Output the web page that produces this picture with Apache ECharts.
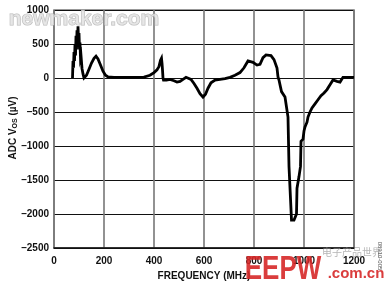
<!DOCTYPE html>
<html>
<head>
<meta charset="utf-8">
<script src="https://cdn.jsdelivr.net/npm/echarts@6/dist/echarts.min.js"></script>
<style>html,body{margin:0;padding:0;background:#fff}#c{width:386px;height:284px}</style>
</head>
<body>
<div id="c"></div>
<script>
// Frequency (MHz)
const freqMHz = [74,75,76,78,80,82,84,86,88,90,92,94,96,98,100,102,104,106,108,112,116,120,124,130,140,150,160,168,176,186,196,206,216,240,300,360,384,400,412,420,426,430,432,434,436,438,450,464,480,492,504,516,528,536,548,560,572,584,596,606,616,628,644,664,684,704,724,744,760,776,784,796,812,824,836,848,856,868,880,888,892,896,900,904,910,916,924,932,936,940,944,950,954,960,966,970,972,978,980,986,988,996,1000,1004,1012,1016,1024,1032,1044,1056,1068,1080,1092,1104,1116,1120,1132,1144,1156,1170,1200];
// ADC VOS (µV)
const vosMicroV = [0,0,250,150,380,250,500,330,620,420,700,520,760,560,660,420,520,300,330,140,60,0,0,40,130,220,290,320,280,190,100,40,15,10,10,12,40,80,120,170,260,290,220,120,0,-30,-30,-20,-40,-60,-50,-20,10,15,-20,-80,-150,-230,-280,-240,-150,-70,-30,-20,-10,10,40,80,150,250,260,230,190,200,300,340,365,330,270,250,147,15,-30,-100,-200,-220,-280,-290,-574,-1300,-1320,-2090,-2090,-2090,-2090,-2000,-1620,-1600,-1450,-1300,-930,-900,-780,-720,-650,-574,-500,-440,-380,-320,-260,-220,-170,-100,-30,-10,-50,-60,10,10,10];
const xTicks = {min:0, max:1200, step:200};
const yTicks = {min:-2500, max:1000, step:500};

const data = freqMHz.map((f,i)=>[f, vosMicroV[i]]);
const FONT = '"Liberation Sans", Arial, sans-serif';
const chart = echarts.init(document.getElementById('c'), null, {renderer:'canvas'});
chart.setOption({
  animation:false,
  backgroundColor:'#fff',
  grid:{left:54, right:32, top:10, bottom:36, show:true, borderColor:'#777', borderWidth:1.5},
  xAxis:{type:'value', min:xTicks.min, max:xTicks.max, interval:xTicks.step,
    axisLine:{show:true, onZero:false, lineStyle:{color:'#111', width:1.5}},
    axisTick:{show:false},
    splitLine:{show:true, lineStyle:{color:'#777', width:1.6}},
    axisLabel:{color:'#111', fontWeight:'bold', fontSize:10, fontFamily:FONT, margin:8,
      formatter:v=>String(v)}
  },
  yAxis:{type:'value', min:yTicks.min, max:yTicks.max, interval:yTicks.step,
    axisLine:{show:false}, axisTick:{show:false},
    splitLine:{show:true, lineStyle:{color:'#111', width:1.2}},
    axisLabel:{color:'#111', fontWeight:'bold', fontSize:10, fontFamily:FONT, margin:5,
      formatter:v=> v<0 ? '\u2013'+Math.abs(v) : String(v)}
  },
  series:[{type:'line', data:data, showSymbol:false, symbol:'none',
    lineStyle:{color:'#000', width:2.8, join:'miter'}, z:5}],
  graphic:[
    {type:'text', x:13, y:128, rotation:Math.PI/2,
      style:{text:'{a|ADC V}{s|OS}{a| (µV)}', align:'center', verticalAlign:'middle',
        fill:'#111', font:'bold 10px '+FONT,
        rich:{a:{fontSize:10, fontWeight:'bold', fontFamily:FONT, fill:'#111'},
              s:{fontSize:7, fontWeight:'bold', fontFamily:FONT, fill:'#111', padding:[4,0,0,0]}}}},
    {type:'text', x:204, y:276,
      style:{text:'FREQUENCY (MHz)', align:'center', verticalAlign:'middle', fill:'#111', font:'bold 10px '+FONT}},
    {type:'text', x:84, y:19, z:100,
      style:{text:'newmaker.com', align:'center', verticalAlign:'middle', fill:'rgba(225,225,225,0.8)',
        stroke:'rgba(170,170,170,0.8)', lineWidth:1, font:'bold 21px '+FONT}},
    {type:'text', x:380, y:256, rotation:-Math.PI/2, z:100,
      style:{text:'08310-005', align:'center', verticalAlign:'middle', fill:'#555', font:'6px '+FONT}},
    {type:'text', x:352, y:252, z:90,
      style:{text:'电子产品世界', align:'center', verticalAlign:'middle', fill:'rgba(150,150,150,0.7)', font:'10px "Noto Sans CJK SC"'}},
    {type:'text', x:283, y:270, scaleY:1.25, z:100,
      style:{text:'EEPW', align:'center', verticalAlign:'middle', fill:'rgba(214,40,40,0.9)', font:'bold 26px '+FONT}},
    {type:'text', x:356, y:274, z:100,
      style:{text:'.com.cn', align:'center', verticalAlign:'middle', fill:'rgba(214,40,40,0.9)', font:'bold 15px '+FONT}}
  ]
});
</script>
</body>
</html>
